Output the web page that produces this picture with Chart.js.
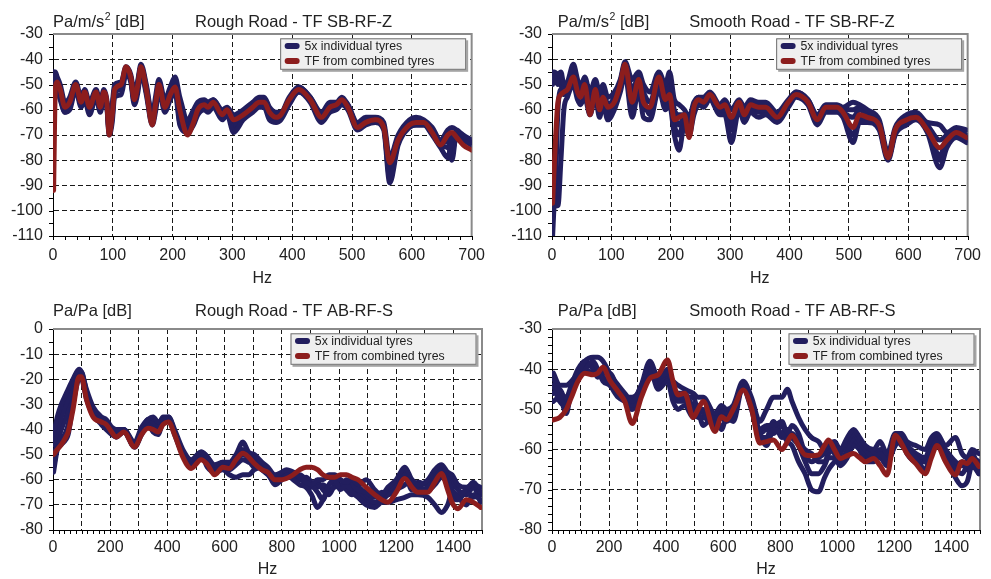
<!DOCTYPE html>
<html>
<head>
<meta charset="utf-8">
<title>TF individual vs combined tyres</title>
<script src="https://cdn.jsdelivr.net/npm/chart.js@4.4.1/dist/chart.umd.min.js"></script>
<style>
  html, body { margin: 0; padding: 0; background: #fff; }
  #page { position: relative; width: 991px; height: 579px; overflow: hidden; }
  #page canvas { position: absolute; }
</style>
</head>
<body>
<div id="page">
  <canvas id="tl" width="495" height="290" style="left:0;top:0;width:495px;height:290px"></canvas>
  <canvas id="tr" width="496" height="290" style="left:495px;top:0;width:496px;height:290px"></canvas>
  <canvas id="bl" width="495" height="289" style="left:0;top:290px;width:495px;height:289px"></canvas>
  <canvas id="br" width="496" height="289" style="left:495px;top:290px;width:496px;height:289px"></canvas>
</div>
<script>
// ---- Rough road, TF SB-RF-Z (Pa/m/s2) ----
const tlFreq = [1, 4, 7, 12, 20, 28, 38, 47, 53, 61, 72, 79, 85, 90, 94, 99, 103, 114, 122, 130,
  136, 142, 147, 156, 166, 172, 177, 187, 196, 204, 212, 225, 235, 242, 253, 259, 268, 283, 291, 302,
  318, 334, 345, 353, 362, 373, 381, 395, 411, 430, 449, 463, 474, 483, 493, 509, 523, 539, 553, 563,
  577, 596, 607, 620, 634, 648, 660, 667, 675, 686, 700];
const tlCombined = [-92, -51, -49, -52, -59, -57, -50, -57, -53, -59, -53, -59, -53, -57, -70, -62, -52, -50, -43, -47,
  -56, -50, -43, -52, -66, -57, -50, -59, -54, -51, -60, -70, -65, -60, -58, -59, -57, -62, -60, -64,
  -62, -59, -57, -57, -61, -63, -62, -56, -52, -56, -63, -59, -58, -56, -59, -67, -65, -64, -67, -81,
  -72, -66, -65, -65, -69, -74, -70, -69, -71, -74, -76];
const tlTyre1 = [-46, -45, -47, -50, -57, -55, -49, -55, -52, -57, -52, -57, -52, -56, -66, -58, -50, -49, -43, -46,
  -53, -48, -42, -50, -62, -54, -48, -56, -51, -47, -55, -64, -60, -57, -56, -57, -56, -60, -59, -62,
  -60, -57, -55, -55, -59, -61, -61, -55, -51, -55, -61, -57, -57, -55, -58, -65, -63, -63, -65, -79,
  -70, -64, -63, -64, -67, -72, -68, -67, -68, -70, -72];
const tlTyre2 = [-50, -49, -52, -56, -61, -60, -52, -59, -56, -62, -55, -61, -55, -59, -70, -65, -55, -54, -46, -49,
  -58, -53, -45, -54, -66, -60, -52, -61, -56, -53, -66, -69, -66, -62, -60, -61, -59, -64, -62, -69,
  -64, -61, -59, -59, -64, -65, -64, -58, -53, -57, -65, -61, -60, -58, -60, -68, -66, -65, -68, -89,
  -74, -67, -66, -66, -70, -75, -79, -72, -70, -72, -74];
const tlTyre3 = [-45, -47, -50, -54, -60, -58, -50, -57, -54, -60, -54, -60, -54, -58, -68, -60, -52, -51, -44, -48,
  -56, -50, -43, -52, -64, -57, -50, -59, -53, -49, -63, -68, -63, -59, -57, -59, -57, -62, -60, -66,
  -62, -59, -57, -57, -62, -63, -62, -56, -52, -56, -63, -59, -58, -56, -59, -67, -65, -64, -67, -85,
  -72, -66, -65, -65, -69, -74, -72, -80, -69, -71, -73];
const tlTyre4 = [-47, -46, -48, -53, -58, -57, -51, -58, -53, -59, -53, -58, -53, -57, -67, -61, -51, -50, -44, -47,
  -55, -49, -43, -51, -63, -56, -49, -58, -52, -48, -60, -66, -62, -58, -58, -58, -56, -61, -60, -64,
  -61, -58, -56, -56, -60, -62, -62, -56, -51, -55, -62, -58, -58, -56, -58, -66, -64, -64, -66, -83,
  -71, -65, -64, -65, -68, -73, -71, -70, -69, -71, -72];
const tlTyre5 = [-48, -48, -51, -55, -61, -59, -51, -58, -55, -61, -54, -60, -54, -58, -69, -63, -53, -52, -45, -48,
  -57, -51, -44, -53, -65, -58, -51, -60, -55, -50, -65, -68, -64, -61, -59, -60, -58, -63, -61, -67,
  -63, -60, -58, -58, -63, -64, -63, -57, -53, -56, -64, -60, -59, -57, -59, -67, -65, -65, -67, -87,
  -73, -66, -66, -66, -69, -74, -75, -76, -71, -72, -73];

// ---- Smooth road, TF SB-RF-Z (Pa/m/s2) ----
const trFreq = [1, 4, 10, 15, 20, 26, 36, 43, 48, 55, 64, 73, 80, 86, 94, 105, 115, 123, 135, 146,
  154, 165, 180, 191, 198, 206, 214, 223, 231, 239, 247, 255, 266, 283, 291, 302, 315, 324, 334, 348,
  360, 379, 398, 411, 431, 447, 461, 480, 490, 507, 518, 531, 551, 566, 578, 597, 613, 632, 653, 665,
  681, 698];
const trCombined = [-97, -81, -57, -54, -53, -52, -47, -53, -55, -50, -62, -52, -60, -55, -59, -57, -50, -42, -57, -48,
  -57, -59, -47, -56, -54, -64, -63, -62, -71, -59, -56, -57, -54, -59, -58, -63, -57, -62, -58, -59,
  -59, -63, -57, -54, -57, -64, -59, -59, -61, -67, -62, -63, -66, -79, -68, -64, -63, -68, -75, -72,
  -69, -71];
const trTyre1 = [-45, -45, -46, -45, -50, -49, -42, -48, -51, -47, -53, -48, -53, -50, -55, -53, -48, -41, -48, -45,
  -50, -53, -45, -50, -45, -56, -58, -60, -63, -57, -55, -55, -53, -58, -56, -60, -56, -59, -56, -57,
  -57, -61, -56, -53, -56, -62, -58, -58, -59, -57, -58, -60, -64, -77, -67, -62, -61, -65, -66, -69,
  -67, -68];
const trTyre2 = [-110, -98, -98, -80, -60, -55, -50, -56, -58, -55, -62, -55, -63, -58, -64, -60, -53, -46, -63, -52,
  -63, -64, -52, -60, -58, -70, -76, -66, -70, -62, -58, -59, -56, -62, -62, -73, -60, -65, -61, -63,
  -62, -65, -59, -55, -58, -66, -61, -61, -63, -73, -65, -65, -68, -80, -70, -66, -64, -69, -83, -75,
  -71, -73];
const trTyre3 = [-98, -98, -60, -52, -52, -50, -44, -51, -53, -49, -58, -50, -58, -53, -60, -56, -50, -43, -55, -47,
  -55, -62, -48, -55, -50, -62, -66, -63, -68, -59, -56, -57, -55, -60, -59, -66, -58, -62, -58, -60,
  -60, -64, -57, -54, -57, -64, -60, -59, -61, -63, -60, -62, -66, -79, -69, -64, -62, -67, -78, -72,
  -69, -71];
const trTyre4 = [-48, -47, -50, -48, -54, -53, -46, -50, -55, -52, -60, -52, -58, -55, -62, -58, -51, -44, -60, -50,
  -60, -60, -50, -58, -52, -66, -70, -64, -69, -60, -57, -58, -55, -61, -60, -68, -59, -63, -59, -61,
  -61, -64, -58, -54, -57, -65, -60, -60, -62, -70, -63, -64, -67, -79, -69, -65, -63, -68, -80, -73,
  -70, -72];
const trTyre5 = [-50, -46, -47, -50, -53, -51, -45, -52, -54, -50, -56, -51, -56, -52, -58, -55, -49, -42, -52, -47,
  -53, -57, -47, -53, -48, -60, -62, -62, -66, -58, -55, -56, -54, -59, -57, -64, -57, -60, -57, -58,
  -58, -62, -57, -53, -56, -63, -59, -59, -60, -60, -59, -61, -65, -78, -68, -63, -62, -66, -72, -70,
  -68, -70];

// ---- Rough road, TF AB-RF-S (Pa/Pa) ----
const blFreq = [2, 15, 29, 45, 53, 70, 91, 99, 117, 140, 169, 186, 205, 221, 248, 285, 310, 332, 350, 367,
  385, 404, 425, 454, 483, 518, 540, 565, 594, 617, 640, 664, 684, 704, 730, 751, 776, 800, 816, 840,
  863, 885, 904, 925, 944, 965, 985, 1005, 1026, 1045, 1067, 1095, 1125, 1150, 1171, 1200, 1230, 1255, 1276, 1311,
  1335, 1358, 1380, 1395, 1416, 1445, 1470, 1495];
const blCombined = [-50, -48, -46, -43, -41, -32, -19, -19, -28, -35, -37, -38, -41, -43, -41, -47, -42, -39.5, -40, -41,
  -38, -37, -42, -51, -55.5, -52, -54, -58, -55, -55.5, -52, -49.5, -51, -53.5, -56, -57, -60, -60, -59.5, -58,
  -56, -55, -55, -56, -58, -59, -59, -58, -58, -59, -60, -63, -66, -68, -69, -65, -59.5, -63, -65, -65,
  -61, -57.5, -64, -69, -71.5, -68, -69, -71];
const blTyre1 = [-42, -35, -30, -26, -24, -20, -16, -17, -24, -31, -35, -36, -39, -40, -40, -45, -39, -36, -35, -37,
  -36, -35, -40, -48, -52, -49, -51, -54, -53, -53, -50, -45, -49, -50, -53, -55, -58, -57, -56, -57,
  -59, -61, -62, -60, -60, -58, -58, -60, -61, -60, -62, -60, -64, -66, -63, -60, -55, -60, -62, -60,
  -56, -54, -57, -58, -62, -63, -62, -63];
const blTyre2 = [-57, -48, -46, -44, -42, -30, -19, -18, -28, -34, -38, -40, -42, -43, -41, -47, -42, -38, -41, -42,
  -37, -36, -41, -50, -54, -50, -55, -57, -56, -58, -59, -58, -58, -56, -55, -57, -62, -60, -58, -60,
  -62, -63, -66, -71, -68, -62, -60, -64, -62, -65, -67, -70, -71, -69, -69, -68, -67, -66, -66, -67,
  -70, -73, -70, -65, -67, -70, -66, -68];
const blTyre3 = [-46, -40, -35, -30, -28, -23, -17, -18, -26, -32, -37, -37, -40, -41, -40, -46, -40, -37, -38, -39,
  -36, -36, -41, -49, -53, -50, -53, -56, -54, -55, -52, -50, -51, -52, -55, -56, -59, -58, -57, -59,
  -58, -60, -62, -65, -68, -62, -61, -63, -60, -62, -64, -65, -67, -65, -66, -64, -62, -60, -64, -63,
  -58, -56, -60, -64, -66, -64, -61, -65];
const blTyre4 = [-52, -45, -40, -35, -32, -26, -18, -19, -27, -33, -36, -38, -41, -42, -41, -46, -41, -38, -37, -40,
  -37, -36, -42, -50, -54, -51, -52, -55, -55, -56, -54, -52, -53, -54, -56, -58, -61, -59, -58, -58,
  -60, -59, -61, -63, -62, -64, -63, -62, -64, -66, -63, -66, -69, -68, -66, -62, -58, -64, -63, -64,
  -62, -59, -62, -67, -68, -65, -67, -66];
const blTyre5 = [-55, -47, -44, -41, -38, -28, -17, -17, -25, -34, -37, -39, -41, -43, -40, -47, -41, -36, -36, -38,
  -35, -35, -41, -50, -53, -49, -51, -56, -53, -54, -52, -48, -52, -55, -55, -57, -60, -59, -57, -57,
  -59, -62, -63, -61, -64, -66, -62, -60, -63, -63, -65, -68, -70, -66, -64, -61, -57, -62, -61, -62,
  -59, -55, -58, -61, -64, -66, -63, -69];

// ---- Smooth road, TF AB-RF-S (Pa/Pa) ----
const brFreq = [5, 27, 50, 68, 91, 115, 144, 160, 179, 202, 232, 255, 281, 313, 343, 372, 405, 424, 442, 465,
  495, 512, 530, 571, 594, 612, 635, 670, 699, 728, 752, 776, 806, 825, 841, 864, 887, 910, 934, 955,
  969, 990, 1010, 1035, 1057, 1078, 1098, 1127, 1150, 1174, 1203, 1225, 1244, 1275, 1308, 1330, 1349, 1379, 1414, 1437,
  1455, 1472, 1496];
const brCombined = [-52.6, -52, -50, -47, -43, -41, -41.4, -41, -39.5, -42.7, -45.6, -48, -53.5, -47, -42.3, -41.4, -37.7, -43, -46.4, -46,
  -52, -50, -48, -55.5, -51.8, -52.6, -50, -45.2, -49.7, -58.4, -58, -57.6, -60, -58, -56.4, -59, -61.3, -61.5, -61.3, -59,
  -57.6, -60, -62.2, -61.5, -61, -62, -63, -62.2, -64, -66.3, -56.4, -58.5, -61, -63.5, -66, -62, -59, -63, -66.3, -63,
  -63.5, -62.2, -64.2];
const brTyre1 = [-41, -44, -44, -43, -41, -38, -37, -37, -38, -41, -44, -46, -48, -44, -38, -42, -41, -43, -44, -45,
  -46, -47, -47, -51, -49, -50, -49, -43, -47, -53, -50, -47, -47, -45, -48, -52, -55, -57, -58, -60,
  -59, -58, -60, -57, -55, -57, -59, -60, -58, -61, -56, -56, -58, -59, -60, -57, -56, -59, -57, -61,
  -62, -60, -61];
const brTyre2 = [-48, -47, -51, -45, -42, -40, -38, -40, -43, -44, -47, -48, -49, -46, -40, -45, -43, -48, -50, -49,
  -52, -51, -54, -51, -55, -52, -53, -44, -48, -56, -59, -55, -56, -58, -59, -63, -66, -70, -70.5, -67,
  -65, -63, -61, -58, -56, -58, -60, -62, -61, -63, -57, -59, -60, -62, -65, -60, -58, -62, -67, -69,
  -68, -64, -66];
const brTyre3 = [-42, -46, -47, -44, -40, -38, -40, -42, -41, -41, -45, -47, -48, -44, -40, -44, -40, -44, -47, -47,
  -47, -50, -50, -52, -50, -51, -50, -44, -49, -55, -54, -54, -53, -56, -54, -56, -61, -63, -62, -61,
  -60, -61, -63, -60, -57, -59, -61, -61, -60, -62, -57, -58, -59, -61, -62, -58, -57, -60, -63, -64,
  -63, -61, -65];
const brTyre4 = [-44, -48, -49, -46, -42, -40, -41, -41, -40, -42, -46, -48, -50, -46, -39, -43, -42, -45, -48, -48,
  -50, -52, -52, -54, -52, -53, -51, -45, -50, -57, -57, -53, -57, -55, -57, -59, -63, -66, -66, -64,
  -62, -62, -64, -62, -59, -60, -63, -63, -62, -64, -58, -58, -61, -63, -63, -59, -58, -61, -65, -66,
  -64, -63, -66];
const brTyre5 = [-46, -45, -48, -45, -41, -39, -39, -40, -42, -43, -45, -47, -47, -45, -41, -43, -41, -46, -46, -46,
  -49, -49, -51, -53, -51, -52, -50, -44, -48, -56, -55, -56, -54, -57, -56, -58, -60, -61, -63, -63,
  -61, -59, -62, -61, -58, -60, -62, -62, -61, -63, -59, -57, -60, -62, -63, -61, -57, -61, -64, -63,
  -65, -62, -63];

const legendLabels = ['5x individual tyres', 'TF from combined tyres'];

const NAVY = '#221e5e';
const MAROON = '#8c1d1d';
const FONT = '"Liberation Sans", Arial, Helvetica, sans-serif';

Chart.defaults.font.family = FONT;
Chart.defaults.font.size = 16;
Chart.defaults.color = '#222';

// frame, minor ticks, in-plot legend and the two headings of each panel
const panelDeco = {
  id: 'panelDeco',
  beforeDatasetsDraw(chart, args, o) {
    const {ctx, chartArea: a, scales: {x, y}} = chart;
    ctx.save();
    ctx.strokeStyle = '#000';
    ctx.lineWidth = 1;
    ctx.beginPath();
    for (let v = y.min; v <= y.max + 1e-6; v += o.yMinor) {
      const py = Math.round(y.getPixelForValue(v)) + 0.5;
      ctx.moveTo(a.left - 4, py);
      ctx.lineTo(a.left, py);
    }
    for (let v = x.min; v <= x.max + 1e-6; v += o.xMinor) {
      const px = Math.round(x.getPixelForValue(v)) + 0.5;
      ctx.moveTo(px, a.bottom);
      ctx.lineTo(px, a.bottom + 4);
    }
    ctx.stroke();
    // grey top / right frame
    ctx.strokeStyle = '#8a8a8a';
    ctx.lineWidth = 2;
    ctx.beginPath();
    ctx.moveTo(a.left, a.top);
    ctx.lineTo(a.right, a.top);
    ctx.lineTo(a.right, a.bottom);
    ctx.stroke();
    ctx.restore();
  },
  afterDatasetsDraw(chart, args, o) {
    const {ctx, chartArea: a} = chart;
    const bw = 186, bh = 31.5;
    const bx = a.right - 5.5 - bw, by = a.top + 4.3;
    ctx.save();
    ctx.fillStyle = '#a4a4a4';
    ctx.fillRect(bx + 2, by + 2, bw, bh);
    ctx.fillStyle = '#efefef';
    ctx.fillRect(bx, by, bw, bh);
    ctx.strokeStyle = '#6e6e6e';
    ctx.lineWidth = 1;
    ctx.strokeRect(bx + 0.5, by + 0.5, bw - 1, bh - 1);
    [NAVY, MAROON].forEach((c, i) => {
      const ry = by + 7.8 + i * 15;
      ctx.strokeStyle = c;
      ctx.lineWidth = 6;
      ctx.lineCap = 'round';
      ctx.beginPath();
      ctx.moveTo(bx + 7.5, ry);
      ctx.lineTo(bx + 16.5, ry);
      ctx.stroke();
      ctx.fillStyle = '#222';
      ctx.font = '12.3px ' + FONT;
      ctx.textBaseline = 'middle';
      ctx.textAlign = 'left';
      ctx.fillText(legendLabels[i], bx + 24.3, ry + 0.5);
    });
    ctx.restore();
  },
  afterDraw(chart, args, o) {
    const ctx = chart.ctx;
    ctx.save();
    ctx.fillStyle = '#222';
    ctx.textBaseline = 'alphabetic';
    ctx.textAlign = 'left';
    ctx.font = '16.5px ' + FONT;
    let ux = o.unitX;
    ctx.fillText(o.unit, ux, o.headY);
    ux += ctx.measureText(o.unit).width;
    if (o.sup) {
      ctx.font = '10.5px ' + FONT;
      ctx.fillText(o.sup, ux + 0.5, o.headY - 7);
      ux += ctx.measureText(o.sup).width + 0.5;
      ctx.font = '16.5px ' + FONT;
    }
    ctx.fillText(o.tail, ux, o.headY);
    ctx.fillText(o.title, o.titleX, o.headY);
    ctx.restore();
  }
};

function makePanel(id, p) {
  const canvas = document.getElementById(id);
  const datasets = [{
    label: legendLabels[1],
    data: p.freq.map((f, i) => ({x: f, y: p.combined[i]})),
    borderColor: MAROON,
    borderWidth: 5,
    order: 0
  }].concat(p.tyres.map((t, k) => ({
    label: 'Tyre ' + (k + 1),
    data: p.freq.map((f, i) => ({x: f, y: t[i]})),
    borderColor: NAVY,
    borderWidth: 5,
    order: 1
  })));

  return new Chart(canvas, {
    type: 'line',
    data: {datasets},
    options: {
      responsive: false,
      animation: false,
      layout: {
        autoPadding: false,
        padding: {left: 0, top: p.area.top, right: canvas.width - p.area.right, bottom: 0}
      },
      elements: {
        point: {radius: 0},
        line: {cubicInterpolationMode: 'monotone', borderJoinStyle: 'round', borderCapStyle: 'round', fill: false}
      },
      plugins: {
        legend: {display: false},
        tooltip: {enabled: false},
        panelDeco: p.deco
      },
      scales: {
        x: {
          type: 'linear',
          min: 0,
          max: p.xMax,
          afterFit: s => { s.height = canvas.height - p.area.bottom; },
          ticks: {
            stepSize: 100,
            autoSkip: false,
            maxRotation: 0,
            padding: p.xPad,
            callback: v => (v % p.xLabelStep === 0 ? String(v) : '')
          },
          grid: {color: '#1a1a1a', lineWidth: 1, drawTicks: false},
          border: {display: true, color: '#000', width: 1, dash: [5, 3]},
          title: {display: true, text: 'Hz', font: {size: 16}, padding: {top: 0, bottom: p.hzPad}}
        },
        y: {
          min: p.yMin,
          max: p.yMax,
          afterFit: s => { s.width = p.area.left; },
          ticks: {stepSize: 10, padding: 10},
          grid: {color: '#1a1a1a', lineWidth: 1, drawTicks: false},
          border: {display: true, color: '#000', width: 1, dash: [5, 3]}
        }
      }
    },
    plugins: [panelDeco]
  });
}

makePanel('tl', {
  freq: tlFreq, combined: tlCombined, tyres: [tlTyre1, tlTyre2, tlTyre3, tlTyre4, tlTyre5],
  area: {left: 53, top: 34, right: 482, bottom: 236},
  xMax: 700, xLabelStep: 100, xPad: 10, hzPad: 2, yMin: -110, yMax: -30,
  deco: {yMinor: 5, xMinor: 20, unit: 'Pa/m/s', sup: '2', tail: ' [dB]', unitX: 53, titleX: 195, headY: 26.5,
    title: 'Rough Road - TF SB-RF-Z'}
});

makePanel('tr', {
  freq: trFreq, combined: trCombined, tyres: [trTyre1, trTyre2, trTyre3, trTyre4, trTyre5],
  area: {left: 57, top: 34, right: 485, bottom: 236},
  xMax: 700, xLabelStep: 100, xPad: 10, hzPad: 2, yMin: -110, yMax: -30,
  deco: {yMinor: 5, xMinor: 20, unit: 'Pa/m/s', sup: '2', tail: ' [dB]', unitX: 62.7, titleX: 194.3, headY: 26.5,
    title: 'Smooth Road - TF SB-RF-Z'}
});

makePanel('bl', {
  freq: blFreq, combined: blCombined, tyres: [blTyre1, blTyre2, blTyre3, blTyre4, blTyre5],
  area: {left: 53, top: 39, right: 482, bottom: 240},
  xMax: 1500, xLabelStep: 200, xPad: 8, hzPad: 0, yMin: -80, yMax: 0,
  deco: {yMinor: 5, xMinor: 20, unit: 'Pa/Pa [dB]', sup: '', tail: '', unitX: 53, titleX: 195, headY: 26,
    title: 'Rough Road - TF AB-RF-S'}
});

makePanel('br', {
  freq: brFreq, combined: brCombined, tyres: [brTyre1, brTyre2, brTyre3, brTyre4, brTyre5],
  area: {left: 57, top: 39, right: 485, bottom: 240},
  xMax: 1500, xLabelStep: 200, xPad: 8, hzPad: 0, yMin: -80, yMax: -30,
  deco: {yMinor: 2, xMinor: 20, unit: 'Pa/Pa [dB]', sup: '', tail: '', unitX: 62.7, titleX: 194.3, headY: 25.7,
    title: 'Smooth Road - TF AB-RF-S'}
});
</script>
</body>
</html>
